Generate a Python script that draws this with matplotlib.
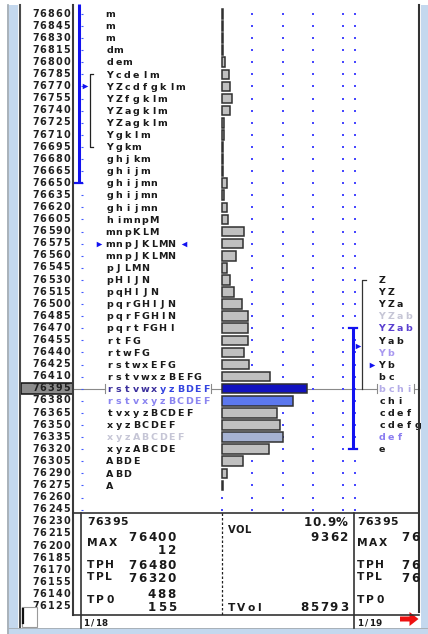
import matplotlib
matplotlib.use('Agg')
import matplotlib.pyplot as plt
import matplotlib.transforms as mtransforms
from matplotlib import font_manager
from matplotlib.font_manager import FontProperties
from matplotlib.patches import Rectangle, Polygon

W, H, DPI = 428, 634, 100

# ---------------- data ----------------
row_prices = [76860, 76845, 76830, 76815, 76800, 76785, 76770, 76755, 76740, 76725,
              76710, 76695, 76680, 76665, 76650, 76635, 76620, 76605, 76590, 76575,
              76560, 76545, 76530, 76515, 76500, 76485, 76470, 76455, 76440, 76425,
              76410, 76395, 76380, 76365, 76350, 76335, 76320, 76305, 76290, 76275,
              76260, 76245]
extra_label_prices = [76230, 76215, 76200, 76185, 76170, 76155, 76140, 76125]
tpo_letters = ["m", "m", "m", "dm", "dem", "Ycdelm", "YZcdfgklm", "YZfgklm", "YZagklm", "YZagklm",
               "Ygklm", "Ygkm", "ghjkm", "ghijm", "ghijmn", "ghijmn", "ghijmn", "himnpM", "mnpKLM", "mnpJKLMN",
               "mnpJKLMN", "pJLMN", "pHIJN", "pqHIJN", "pqrGHIJN", "pqrFGHIN", "pqrtFGHI", "rtFG", "rtwFG", "rstwxEFG",
               "rstvwxzBEFG", "rstvwxyzBDEF", "rstvxyzBCDEF", "tvxyzBCDEF", "xyzBCDEF", "xyzABCDEF", "xyzABCDE", "ABDE", "ABD", "A",
               "", ""]
volumes = [20, 20, 20, 25, 330, 780, 890, 1110, 890, 220,
           220, 30, 30, 30, 450, 220, 450, 560, 2450, 2340,
           1450, 450, 890, 1230, 2120, 2790, 2790, 2790, 2450, 2900,
           5240, 9362, 7910, 6020, 6460, 6690, 5130, 2230, 450, 30,
           0, 0]
next_prices = [76530, 76515, 76500, 76485, 76470, 76455, 76440, 76425, 76410, 76395,
               76380, 76365, 76350, 76335, 76320]
next_letters = ["Z", "YZ", "YZa", "YZab", "YZab", "Yab", "Yb", "Yb", "bc", "bchi",
                "chi", "cdef", "cdefg", "def", "e"]
poc_price = 76395
va_left = (76650, 76872)
va_right = (76320, 76470)
ib_left = (76695, 76785)
ib_right = (76395, 76530)
left_marks_right = [76770, 76575]
left_marks_left = [76575]
right_marks = [76447.5, 76425]

# panel values
last_price = "76395"
max_price, max_count = "76400", "12"
tph, tpl = "76480", "76320"
tpo_total, tpo_rows = "488", "155"
vol_pct, poc_vol, total_vol = "10.9%", "9362", "85793"
page_left, page_right = "1/18", "1/19"
right_last = "76395"
right_clipped = "76"

# ---------------- styles ----------------
TXT = '#1a1a1a'
BLUE = '#1212F0'
WT = 'bold'
letter_colors_1 = {76380: '#8A84F0', 76335: '#C6C6D6'}
letter_colors_2 = {76485: '#C6C6D6', 76470: '#5A40D0', 76440: '#A898F0', 76395: '#B4ACE8', 76335: '#8A7CF0'}
bar_colors = {76395: '#1212C0', 76380: '#5C78EE', 76335: '#A6B2D2'}
BAR_FILL = '#C0C0C0'

ROW_PX = 12.09
Y0 = 13.0
STEP = row_prices[0] - row_prices[1]
PPX = ROW_PX / STEP  # pixels per price unit
P_TOP = row_prices[0] + Y0 / PPX
P_BOT = row_prices[0] - (H - Y0) / PPX

fig = plt.figure(figsize=(W / DPI, H / DPI), dpi=DPI)
fig.patch.set_facecolor('white')

ax_p = fig.add_axes([0, 0, 1, 1], zorder=1)
ax_p.set_xlim(0, W)
ax_p.set_ylim(P_BOT, P_TOP)
ax_p.axis('off')
ax_p.patch.set_alpha(0)

_fonts = {}


def adv(ch, size, weight):
    if weight not in _fonts:
        _fonts[weight] = font_manager.get_font(
            font_manager.findfont(FontProperties(family='DejaVu Sans', weight=weight)))
    f = _fonts[weight]
    f.set_size(size, DPI)
    return f.load_char(ord(ch)).linearHoriAdvance / 65536.0


def half_cap(size):
    return 0.729 * size * DPI / 72 / 2


def put(ax, x, y, s, size, color=TXT, pitch=None, sp=0.0, ha='left', dy=0.0,
        colors=None, weight=WT, z=5):
    tr = mtransforms.offset_copy(ax.transData, fig=fig, x=0, y=-dy, units='dots')
    if pitch:
        steps = [pitch] * len(s)
        total = pitch * len(s)
    else:
        steps = [adv(c, size, weight) + sp for c in s]
        total = sum(steps) - sp
    cx = x - total if ha == 'right' else x
    for i, c in enumerate(s):
        col = colors[i] if colors else color
        if pitch:
            ax.text(cx + pitch / 2, y, c, ha='center', va='baseline', fontsize=size, color=col,
                    transform=tr, family='DejaVu Sans', weight=weight, zorder=z)
        else:
            ax.text(cx, y, c, ha='left', va='baseline', fontsize=size, color=col,
                    transform=tr, family='DejaVu Sans', weight=weight, zorder=z)
        cx += steps[i]


tr_bar = mtransforms.offset_copy(ax_p.transData, fig=fig, x=0, y=-0.9, units='dots')

# price labels
for p in row_prices + extra_label_prices:
    put(ax_p, 70.9, p, str(p), 6.9, pitch=7.9, ha='right', dy=3.6, z=6, color='#202020')

# price box for current price
ax_p.add_patch(Rectangle((21, poc_price - 5.6 / PPX), 52, 11.2 / PPX, facecolor='#8C8C8C',
                         edgecolor='#111111', lw=1.1, zorder=4, transform=tr_bar))

# row tick dashes and dot grid
for p in row_prices:
    ax_p.plot([80.8, 83.2], [p, p], color='#4058FF', lw=0.8, transform=tr_bar, zorder=3,
              solid_capstyle='butt')
dot_x = [252.5, 282.8, 313.2, 343.3, 355.5]
for x in dot_x:
    ax_p.scatter([x] * len(row_prices), row_prices, marker='s', s=1.3, color='#4848FF',
                 linewidths=0, transform=tr_bar, zorder=3)
ax_p.scatter([222.5] * sum(1 for v in volumes if v == 0), [p for p, v in zip(row_prices, volumes) if v == 0],
             marker='s', s=1.3, color='#4848FF', linewidths=0, transform=tr_bar, zorder=3)

# value area lines
ax_p.plot([79.2, 79.2], [va_left[0], va_left[1]], color=BLUE, lw=2.2, transform=tr_bar, zorder=4,
          solid_capstyle='butt')
ax_p.plot([75, 82.5], [va_left[0], va_left[0]], color=BLUE, lw=1.6, transform=tr_bar, zorder=4)
ax_p.plot([353.2, 353.2], list(va_right), color=BLUE, lw=2.2, transform=tr_bar, zorder=4,
          solid_capstyle='butt')
for v in va_right:
    ax_p.plot([349, 357], [v, v], color=BLUE, lw=1.6, transform=tr_bar, zorder=4)

# initial balance brackets
ax_p.plot([93.5, 90, 90, 93.5], [ib_left[1], ib_left[1], ib_left[0], ib_left[0]],
          color='#222222', lw=0.9, transform=tr_bar, zorder=4)
ax_p.plot([366, 362, 362], [ib_right[1], ib_right[1], ib_right[0]],
          color='#333333', lw=0.9, transform=tr_bar, zorder=4)

# markers
ax_p.scatter([85.5], [left_marks_right[0]], marker='>', s=16, color=BLUE, linewidths=0,
             transform=tr_bar, zorder=5)
ax_p.scatter([99], [left_marks_right[1]], marker='>', s=16, color=BLUE, linewidths=0,
             transform=tr_bar, zorder=5)
ax_p.scatter([184.5], left_marks_left, marker='<', s=16, color=BLUE, linewidths=0,
             transform=tr_bar, zorder=5)
ax_p.scatter([358.5], [right_marks[0]], marker='>', s=16, color=BLUE, linewidths=0,
             transform=tr_bar, zorder=5)
ax_p.scatter([372.5], [right_marks[1]], marker='>', s=16, color=BLUE, linewidths=0,
             transform=tr_bar, zorder=5)

# POC line segments
for x0, x1 in [(73, 104.8), (210.8, 223), (223, 377.2), (414, 419)]:
    ax_p.plot([x0, x1], [poc_price, poc_price], color='#8A8A8A', lw=0.8, transform=tr_bar, zorder=2)
for x in [104.8, 210.8, 377.2, 414]:
    ax_p.plot([x, x], [poc_price - 4.5 / PPX, poc_price + 4.5 / PPX], color='#8A8A8A', lw=0.8,
              transform=tr_bar, zorder=2)

# TPO letters, session 1
for p, s in zip(row_prices, tpo_letters):
    if not s:
        continue
    cols = None
    if p == poc_price:
        cols = ['#3A2E9C'] * 6 + ['#3444E0'] * (len(s) - 6)
    put(ax_p, 105.4, p, s, 6.8, color=letter_colors_1.get(p, TXT), pitch=8.8, dy=4.1, colors=cols)

# TPO letters, session 2
for p, s in zip(next_prices, next_letters):
    put(ax_p, 377.5, p, s, 6.8, color=letter_colors_2.get(p, TXT), pitch=9.0, dy=4.1)

# ---------------- volume bars ----------------
BAR_MAX_PX = 84
BAR_AX_PX = 200
ax_b = fig.add_axes([222.5 / W, -0.9 / H, BAR_AX_PX / W, 1.0], zorder=2)
ax_b.set_ylim(P_BOT, P_TOP)
ax_b.set_xlim(0, max(volumes) * BAR_AX_PX / BAR_MAX_PX)
ax_b.axis('off')
ax_b.patch.set_alpha(0)
bp = [p for p, v in zip(row_prices, volumes) if v > 0]
bv = [v for v in volumes if v > 0]
bars = ax_b.barh(bp, bv, height=9.6 / PPX, left=0,
                 color=[bar_colors.get(p, BAR_FILL) for p in bp],
                 edgecolor='#303030', linewidth=1.1)
for b in bars:
    b.set_clip_on(False)

# ---------------- frame / panels ----------------
ax_px = fig.add_axes([0, 0, 1, 1], zorder=3)
ax_px.set_xlim(0, W)
ax_px.set_ylim(H, 0)
ax_px.axis('off')
ax_px.patch.set_alpha(0)

LB = '#C4D8EE'
DARK = '#333333'
# left strip
ax_px.add_patch(Rectangle((9.3, 5), 9.2, H - 5, facecolor=LB, edgecolor='none'))
ax_px.plot([8.3, 8.3], [5, H], color='#9AA4AE', lw=1.2)
ax_px.plot([19.6, 19.6], [5, 628], color='#4A4A4A', lw=1.5)
# right strip
ax_px.add_patch(Rectangle((420.8, 5), W - 420.8, H - 5, facecolor=LB, edgecolor='none'))
ax_px.plot([419.4, 419.4], [5, 612], color=DARK, lw=1.5)
# bottom strip
ax_px.add_patch(Rectangle((9.3, 628), W - 9.3, 6, facecolor=LB, edgecolor='none'))
ax_px.plot([8.3, W], [627.6, 627.6], color='#A8B0B8', lw=0.7)

# main separator lines
ax_px.plot([73, 73], [5, 615], color='#3A3A3A', lw=1.5)
ax_px.plot([73, 419.4], [513, 513], color=DARK, lw=1.2)
ax_px.plot([73, 419.4], [615, 615], color=DARK, lw=1.2)
ax_px.plot([81, 81], [513, 627.5], color=DARK, lw=1.2)
ax_px.plot([353.6, 353.6], [513, 627.5], color=DARK, lw=1.2)
ax_px.plot([222.5, 222.5], [513, 615], color='#222222', lw=0.9, ls=(0, (2, 1.6)))

# little box bottom-left
ax_px.add_patch(Rectangle((22, 607), 15.3, 20, facecolor='white', edgecolor='#9A9A9A', lw=0.8))
ax_px.plot([22.8, 22.8], [609, 623], color='#111111', lw=1.6)

# red arrow
ax_px.add_patch(Polygon([(400, 616.5), (409.5, 616.5), (409.5, 612), (418.5, 619), (409.5, 626),
                         (409.5, 621.5), (400, 621.5)], closed=True, facecolor='#EE1111',
                        edgecolor='none'))

# panel texts (left panel)
put(ax_px, 87, 521.5, last_price, 7.9, sp=0.7, dy=half_cap(7.9))
put(ax_px, 87, 542.5, "MAX", 7.7, sp=1.6, dy=half_cap(7.7))
put(ax_px, 176, 536.5, max_price, 8.6, sp=1.6, ha='right', dy=half_cap(8.6))
put(ax_px, 176, 549.8, max_count, 8.6, sp=1.6, ha='right', dy=half_cap(8.6))
put(ax_px, 87, 564, "TPH", 7.7, sp=1.4, dy=half_cap(7.7))
put(ax_px, 176, 564.5, tph, 8.6, sp=1.6, ha='right', dy=half_cap(8.6))
put(ax_px, 87, 576.5, "TPL", 7.7, sp=1.4, dy=half_cap(7.7))
put(ax_px, 176, 577.5, tpl, 8.6, sp=1.6, ha='right', dy=half_cap(8.6))
put(ax_px, 87, 599, "TP0", 7.7, sp=2.0, dy=half_cap(7.7))
put(ax_px, 176, 593.5, tpo_total, 8.6, sp=1.9, ha='right', dy=half_cap(8.6))
put(ax_px, 176, 607, tpo_rows, 8.6, sp=1.9, ha='right', dy=half_cap(8.6))

# middle panel
put(ax_px, 228, 529, "VOL", 7.2, sp=0.0, dy=half_cap(7.2))
put(ax_px, 348, 521.5, vol_pct, 8.6, sp=0.8, ha='right', dy=half_cap(8.6))
put(ax_px, 348, 536.5, poc_vol, 8.6, sp=1.6, ha='right', dy=half_cap(8.6))
put(ax_px, 228, 607, "TVol", 7.7, sp=2.0, dy=half_cap(7.7))
put(ax_px, 348, 607, total_vol, 8.6, sp=1.6, ha='right', dy=half_cap(8.6))

# right panel
put(ax_px, 357, 521.5, right_last, 7.9, sp=0.7, dy=half_cap(7.9))
put(ax_px, 357, 542.5, "MAX", 7.7, sp=1.6, dy=half_cap(7.7))
put(ax_px, 401, 536.5, right_clipped, 8.6, sp=1.6, dy=half_cap(8.6))
put(ax_px, 357, 564, "TPH", 7.7, sp=1.4, dy=half_cap(7.7))
put(ax_px, 401, 564.5, right_clipped, 8.6, sp=1.6, dy=half_cap(8.6))
put(ax_px, 357, 576.5, "TPL", 7.7, sp=1.4, dy=half_cap(7.7))
put(ax_px, 401, 577.5, right_clipped, 8.6, sp=1.6, dy=half_cap(8.6))
put(ax_px, 357, 599, "TP0", 7.7, sp=2.0, dy=half_cap(7.7))

# page indicators
put(ax_px, 83.5, 622.5, page_left, 6.3, sp=1.0, dy=half_cap(6.3))
put(ax_px, 357.5, 622.5, page_right, 6.3, sp=1.0, dy=half_cap(6.3))

fig.savefig('out.png', dpi=DPI, facecolor='white')
